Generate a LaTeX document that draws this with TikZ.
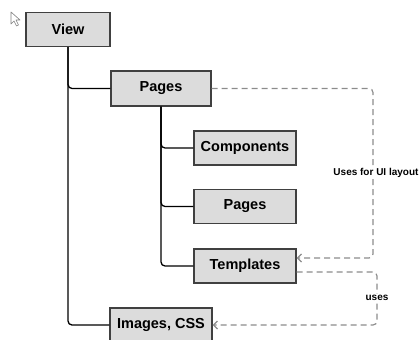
\documentclass[tikz,border=0pt]{standalone}
\usepackage{fontspec}
\setmainfont{Liberation Sans}
\usetikzlibrary{arrows.meta}
\definecolor{boxfill}{HTML}{DCDCDC}
\definecolor{boxline}{HTML}{404040}
\definecolor{linkgray}{HTML}{8C8C8C}
\begin{document}
\begin{tikzpicture}[x=1pt,y=-1pt,
  folder/.style={draw=boxline, fill=boxfill, line width=1.3pt, minimum width=102pt, minimum height=34pt, inner sep=0pt, font=\fontsize{14.5}{16}\selectfont\bfseries},
  tree/.style={line width=1.3pt, rounded corners=4pt},
  link/.style={draw=linkgray, line width=1.2pt, dash pattern=on 6pt off 4pt, rounded corners=4pt, -{Straight Barb[length=4pt,width=8pt]}},
  lbl/.style={fill=white, inner sep=1pt, font=\fontsize{10}{12}\selectfont\bfseries}]
\useasboundingbox (0,0) rectangle (419,339);
% mouse pointer
\draw[gray, line width=0.6pt, line join=round] (11,12) -- (11,24) -- (14,21) -- (16.5,26) -- (18.5,25) -- (16,20) -- (20,20) -- cycle;
\node[folder, minimum width=84pt] (view) at (68,29.5){View};
\node[folder, minimum width=100pt, minimum height=35pt] (pages1) at (161,88.5){Pages};
\node[folder] (comp) at (245,148){Components};
\node[folder] (pages2) at (245,206.5){Pages};
\node[folder] (templ) at (245,266){Templates};
\node[folder] (images) at (161,325){Images, CSS};
\draw[tree](view.south) |- (pages1.west);
\draw[tree](view.south) |- (images.west);
\draw[tree](pages1.south) |- (comp.west);
\draw[tree](pages1.south) |- (pages2.west);
\draw[tree](pages1.south) |- (templ.west);
\coordinate (bendA) at (373,0);
\coordinate (bendB) at (377,0);
\draw[link](pages1.east) -| ([yshift=8pt]templ.east -| bendA) -- ([yshift=8pt]templ.east);
\draw[link]([yshift=-6pt]templ.east) -| (images.east -| bendB) -- (images.east);
\node[lbl] (uilabel) at (376,173){Uses for UI layout};
\node[lbl] (useslabel) at (377,298){uses};
\end{tikzpicture}
\end{document}
